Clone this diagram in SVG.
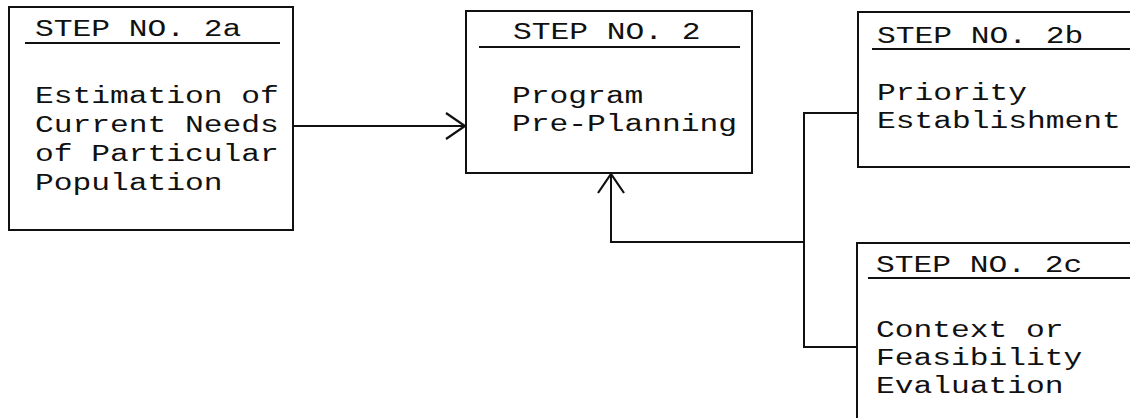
<svg xmlns="http://www.w3.org/2000/svg" width="1130" height="418" viewBox="0 0 1130 418">
  <style>
    .box { fill: #fff; stroke: #111; stroke-width: 2; }
    .rule { stroke: #111; stroke-width: 1.8; fill: none; }
    .t { font-family: "Liberation Mono", "Courier New", monospace; font-size: 23px; fill: #111; }
    .conn { stroke: #111; stroke-width: 2; fill: none; }
  </style>
  <defs>
    <marker id="chev" markerUnits="userSpaceOnUse" markerWidth="24" markerHeight="30" refX="20" refY="14" orient="auto">
      <path d="M1,1 L20,14 L1,27" fill="none" stroke="#111" stroke-width="2.2"/>
    </marker>
  </defs>
  <rect width="1130" height="418" fill="#fff"/>

  <g id="connectors">
    <path class="conn" d="M293,126 L465,126" marker-end="url(#chev)"/>
    <path class="conn" d="M858,113 L804,113 L804,347 L857,347"/>
    <path class="conn" d="M804,242 L611,242 L611,174" marker-end="url(#chev)"/>
  </g>

  <g id="step2a">
    <rect class="box" x="9" y="7" width="284" height="223"/>
    <text class="t" transform="translate(35,36) scale(1.36,1)">STEP NO. 2a</text>
    <line class="rule" x1="25" y1="43" x2="280" y2="43"/>
    <text class="t" transform="translate(35,103) scale(1.36,1)">Estimation of</text>
    <text class="t" transform="translate(35,132) scale(1.36,1)">Current Needs</text>
    <text class="t" transform="translate(35,161) scale(1.36,1)">of Particular</text>
    <text class="t" transform="translate(35,190) scale(1.36,1)">Population</text>
  </g>

  <g id="step2">
    <rect class="box" x="466" y="11" width="286" height="162"/>
    <text class="t" transform="translate(513,39) scale(1.36,1)">STEP NO. 2</text>
    <line class="rule" x1="479" y1="47" x2="740" y2="47"/>
    <text class="t" transform="translate(512,103) scale(1.36,1)">Program</text>
    <text class="t" transform="translate(512,131) scale(1.36,1)">Pre-Planning</text>
  </g>

  <g id="step2b">
    <rect class="box" x="858" y="12" width="290" height="155"/>
    <text class="t" transform="translate(877,43) scale(1.36,1)">STEP NO. 2b</text>
    <line class="rule" x1="872" y1="49" x2="1135" y2="49"/>
    <text class="t" transform="translate(877,100) scale(1.36,1)">Priority</text>
    <text class="t" transform="translate(877,128) scale(1.36,1)">Establishment</text>
  </g>

  <g id="step2c">
    <rect class="box" x="857" y="243" width="290" height="190"/>
    <text class="t" transform="translate(876,272) scale(1.36,1)">STEP NO. 2c</text>
    <line class="rule" x1="868" y1="278" x2="1135" y2="278"/>
    <text class="t" transform="translate(876,337) scale(1.36,1)">Context or</text>
    <text class="t" transform="translate(876,365) scale(1.36,1)">Feasibility</text>
    <text class="t" transform="translate(876,393) scale(1.36,1)">Evaluation</text>
  </g>
</svg>
